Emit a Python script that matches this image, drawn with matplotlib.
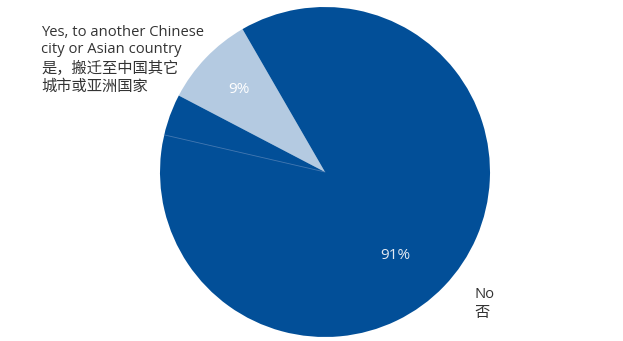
import numpy as np
import matplotlib
matplotlib.use("Agg")
import matplotlib.pyplot as plt

# Share of respondents planning to relocate
categories = ["Yes, to another Chinese city or Asian country", "No"]
labels_en = ["Yes, to another Chinese\ncity or Asian country", "No"]
labels_zh = ["是，搬迁至中国其它\n城市或亚洲国家", "否"]
values = [9, 91]
colors = ["#B4CAE1", "#024F98"]

W, H, DPI = 623, 341, 100
fig = plt.figure(figsize=(W / DPI, H / DPI), dpi=DPI)
ax = fig.add_axes([0, 0, 1, 1])

R_PX = 165.0
CX, CY = 325.0, 172.0  # pie centre in pixels from top-left

wedges, _, autotexts = ax.pie(
    values, colors=colors, startangle=120, counterclock=True,
    radius=1.0, autopct="%d%%", pctdistance=0.72,
    wedgeprops=dict(linewidth=0, antialiased=True),
    textprops=dict(color="#E4EAF3", fontsize=11, family="Open Sans"),
)
autotexts[0].set_color("white")
# nudge the large label lower along the wedge
ang = np.deg2rad(-50)
autotexts[1].set_position((0.66 * np.cos(ang), 0.66 * np.sin(ang)))

ax.set_xlim(-CX / R_PX, (W - CX) / R_PX)
ax.set_ylim(-(H - CY) / R_PX, CY / R_PX)
ax.set_aspect("auto")
ax.axis("off")

# faint seam inside the large wedge
seam = np.deg2rad(167)
ax.plot([0, np.cos(seam)], [0, np.sin(seam)], color="#6F93C2", lw=0.6, alpha=0.6)


def px(x, y):
    return (x - CX) / R_PX, (CY - y) / R_PX


en_font = dict(family=["Open Sans", "DejaVu Sans"], color="#333333")
zh_font = dict(family=["Noto Sans CJK SC", "DejaVu Sans"], color="#333333")

x0, y0 = px(41, 33)
ax.text(x0, y0, labels_en[0].split("\n")[0], va="center", ha="left", fontsize=10.6, **en_font)
x0, y0 = px(41, 50)
ax.text(x0, y0, labels_en[0].split("\n")[1], va="center", ha="left", fontsize=10.6, **en_font)
x1, y1 = px(41, 68)
ax.text(x1, y1, labels_zh[0].split("\n")[0], va="center", ha="left", fontsize=11.0, **zh_font)
x1, y1 = px(41, 86)
ax.text(x1, y1, labels_zh[0].split("\n")[1], va="center", ha="left", fontsize=11.0, **zh_font)

x2, y2 = px(474, 294)
ax.text(x2, y2, labels_en[1], va="center", ha="left", fontsize=10.6, **en_font)
x3, y3 = px(474, 312)
ax.text(x3, y3, labels_zh[1], va="center", ha="left", fontsize=11.0, **zh_font)

fig.savefig("out.png", dpi=DPI)
